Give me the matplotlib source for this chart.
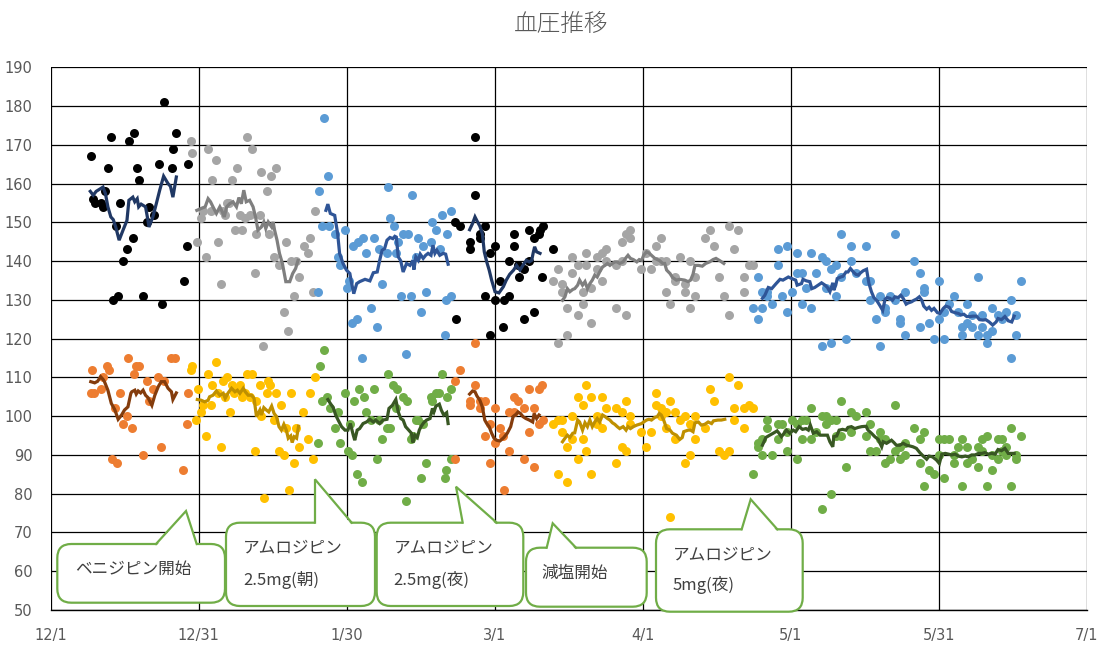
import matplotlib
matplotlib.use("Agg")
import matplotlib.pyplot as plt
from matplotlib.patches import FancyBboxPatch, Polygon
import numpy as np

plt.rcParams['font.family'] = ['Noto Sans CJK JP', 'DejaVu Sans']

TITLE = "血圧推移"
X_TICK_LABELS = ['12/1', '12/31', '1/30', '3/1', '4/1', '5/1', '5/31', '7/1']
X_SPAN_DAYS = 212          # 12/1 -> 7/1, x values are days since 12/1
Y_MIN, Y_MAX, Y_STEP = 50, 190, 10

# ---------------- period 1 (black / orange) ----------------
P1_SYS_DAY = [8.2,8.7,9.1,10.3,10.6,11.2,11.7,12.3,12.7,13.4,13.8,14.1,14.8,15.7,16.0,16.8,17.0,17.6,18.1,18.9,19.6,20.1,21.1,22.1,22.8,23.1,24.8,25.0,25.6,27.2,27.8,28.1]
P1_SYS = [167,156,155,155,154,158,164,172,130,149,131,155,140,143,171,146,173,164,161,131,150,154,152,165,129,181,164,169,173,135,144,165]
P1_DIA_DAY = [8.2,8.5,8.9,10.2,10.7,11.6,11.9,12.6,13.2,13.6,14.1,14.7,15.7,15.9,16.7,17.0,17.5,18.0,18.8,19.6,20.1,21.0,22.0,22.6,23.1,24.7,25.5,27.1,27.8,28.0]
P1_DIA = [106,112,106,107,110,113,112,89,102,88,106,98,100,115,97,111,113,113,90,109,104,107,110,92,109,115,115,86,98,106]
P1_SYS_MA_DAY = [8.1,8.7,9.3,10.7,11.2,11.7,12.3,12.8,13.3,14.0,14.8,15.6,16.0,16.8,17.2,17.7,18.0,18.5,19.4,19.9,20.1,20.9,21.6,22.3,23.1,24.0,24.5,25.0,25.7]
P1_SYS_MA = [158,157,158,159.1,157.4,154,151.4,150.7,148.8,145.4,148,150.5,155.7,156.5,155.3,156.1,154,154.7,154,150.5,148.8,151.4,154.8,158.3,161.9,160,159.3,156.5,161.7]
P1_DIA_MA_DAY = [8.2,9.0,9.6,10.2,10.7,11.0,11.7,12.4,13.1,13.8,14.5,15.1,15.8,16.4,16.6,17.2,17.5,17.9,18.4,18.9,19.4,19.9,20.7,21.3,22.0,22.6,23.3,24.0,24.7,25.0,25.7]
P1_DIA_MA = [108.9,108.6,109.0,110.2,109.5,108.9,106.7,103.3,101.7,99.2,100.3,101.6,102.4,105.9,106.3,106.7,105.7,106.5,106.0,106.7,105.4,104.8,102.8,105.4,107.6,108.9,108.9,107.2,106.3,104.3,106.0]

# ---------------- period 2 (gray / gold) ----------------
P2_SYS_DAY = [28.6,29.0,29.9,30.7,31.1,31.7,32.1,32.8,33.1,33.8,34.2,34.8,35.2,35.6,36.0,36.5,37.0,37.7,38.1,38.7,39.1,39.7,40.1,40.8,41.1,41.8,42.1,42.8,43.1,43.4,44.2,44.6,45.1,45.7,46.1,46.7,47.7,48.1,48.6,49.1,49.8,50.2,50.8,51.8,52.6,53.0,53.6,54.0]
P2_SYS = [171,168,145,151,153,141,169,153,161,166,145,134,153,152,155,155,161,148,164,152,148,151,172,152,169,137,147,152,163,118,158,147,162,141,164,139,127,145,122,140,131,140,136,144,142,146,132,153]
P2_DIA_DAY = [28.7,29.0,29.7,30.1,30.7,31.1,31.7,32.1,32.7,33.1,33.8,34.2,34.8,35.2,35.6,36.0,36.7,37.0,37.5,38.0,38.7,39.1,39.7,40.1,40.8,41.1,41.8,42.1,42.8,43.1,43.6,44.2,44.5,44.8,45.7,46.0,46.7,47.1,47.7,48.1,48.7,49.1,49.8,50.2,50.7,51.7,52.6,53.0,53.6,54.0]
P2_DIA = [112,113,99,107,101,103,95,111,103,108,114,106,92,109,105,110,101,108,106,107,108,105,106,111,105,111,91,104,108,100,79,106,109,108,99,106,91,103,90,97,81,106,88,97,92,101,94,106,89,110]
P2_SYS_MA_DAY = [29.9,30.8,31.6,32.2,32.7,33.2,33.9,34.6,35.1,35.5,36.0,36.6,37.3,38.0,38.5,39.0,39.5,40.0,40.7,41.4,41.9,42.4,43.1,43.6,44.0,44.5,45.2,45.5,45.8,46.3,46.8,47.4,48.1,48.9,49.5,50.1,50.6]
P2_SYS_MA = [153.1,153.6,154.0,156.1,155.3,154.0,152.3,154.0,152.7,151.4,154.0,154.8,155.3,154.0,156.4,154.8,158.3,155.3,155.7,154.0,151.4,148.0,148.8,150.1,148.4,150.1,148.8,150.1,148.0,145.4,142.0,139.4,134.7,134.7,136.8,138.1,140.2]
P2_DIA_MA_DAY = [30.0,30.8,31.5,32.2,32.5,33.2,33.9,34.6,35.3,35.7,36.3,37.0,37.7,38.2,38.7,39.4,39.8,40.4,41.1,41.6,42.1,42.8,43.1,43.6,44.1,44.6,45.2,45.7,46.2,46.7,47.2,47.7,48.2,48.6,49.1,49.4,49.8,50.3,50.7]
P2_DIA_MA = [104.3,104.1,103.7,104.1,105.0,105.4,106.5,105.4,105.9,104.6,106.0,107.2,106.3,106.7,105.9,107.2,106.3,105.4,105.4,104.6,99.9,101.6,100.3,102.2,101.6,101.1,102.6,100.7,99.9,97.3,96.4,97.9,96.4,94.3,94.9,93.2,94.7,94.3,97.4]

# ---------------- period 3 (blue / green) ----------------
P3_SYS_DAY = [54.7,54.9,55.6,56.0,56.7,57.0,58.1,58.7,59.2,60.2,60.7,61.1,61.6,61.9,62.6,62.9,63.6,63.9,64.6,65.6,66.1,66.7,67.1,67.7,68.7,69.1,69.5,70.2,70.6,71.0,71.6,72.1,72.6,73.1,73.7,74.0,74.7,75.1,75.7,76.1,76.7,77.8,78.1,78.9,79.6,80.0,80.6,80.8,81.0,81.8,81.9]
P3_SYS = [132,158,149,177,162,149,147,141,139,148,133,135,124,144,125,145,115,146,142,128,146,123,143,134,142,159,151,149,142,145,131,147,116,147,131,157,141,146,127,144,132,145,150,148,143,152,121,130,147,153,131]
P3_DIA_DAY = [54.7,55.1,55.6,56.0,56.6,57.1,58.1,58.7,59.2,60.2,60.9,61.2,61.6,62.0,62.6,63.0,63.6,64.1,64.6,65.6,66.1,66.7,67.2,67.7,68.8,69.1,69.4,70.1,70.6,70.9,72.0,72.7,72.9,73.7,74.2,74.7,75.2,75.7,76.2,76.7,77.8,78.1,78.8,79.5,80.0,80.6,80.8,81.0,81.8,81.9]
P3_DIA = [93,113,104,117,105,102,97,101,93,106,91,98,90,104,85,107,83,105,101,99,107,89,99,94,97,111,97,108,102,107,105,78,104,94,95,99,99,84,98,88,105,104,106,106,111,84,86,105,89,107]
P3_SYS_MA_DAY = [56.3,56.7,57.2,58.1,58.7,59.1,59.8,60.5,61.2,61.5,62.0,62.6,63.2,64.3,65.3,66.0,66.8,67.3,67.8,68.3,68.8,69.4,70.0,70.4,70.7,71.1,71.6,72.1,72.8,73.5,74.1,74.3,74.7,75.2,75.6,76.2,76.7,77.2,77.8,78.2,78.6,79.0,79.6,80.3,80.8,81.3]
P3_SYS_MA = [153.1,154.7,152.3,151.8,147.1,142.0,139.4,137.7,136.8,134.7,131.6,134.2,134.7,135.3,134.9,137.0,137.2,140.2,142.8,143.2,145.4,146.1,145.8,146.4,146.2,141.1,140.1,137.2,139.4,138.9,140.2,137.8,141.1,140.2,141.8,140.7,141.5,142.0,141.5,144.1,142.0,142.8,141.5,142.0,141.8,139.2]
P3_DIA_MA_DAY = [56.7,57.2,57.8,58.3,58.8,59.5,60.2,60.8,61.3,61.9,62.2,62.7,63.2,63.9,64.6,65.3,66.0,66.5,67.3,68.0,68.8,69.2,69.9,70.6,71.1,71.6,72.1,72.6,73.1,73.8,74.1,74.5,75.0,75.4,75.8,76.3,76.9,77.6,78.1,78.4,78.8,79.5,79.9,80.4,81.0,81.3]
P3_DIA_MA = [104.3,103.3,102.2,100.3,99.0,97.3,96.4,96.4,98.1,95.1,93.8,96.4,96.8,98.1,98.5,99.2,98.5,99.0,98.1,99.0,99.2,102.0,102.8,104.3,101.1,99.4,99.0,97.3,96.6,95.6,93.2,95.1,94.5,96.4,97.4,98.3,99.0,99.4,102.0,101.1,102.6,103.1,101.6,100.3,100.9,98.1]

# ---------------- period 4 (black / orange) ----------------
P4_SYS_DAY = [82.7,82.9,83.7,85.7,85.7,86.8,86.8,87.8,87.9,88.8,88.8,89.8,89.8,90.9,90.9,91.9,92.6,92.7,93.7,93.8,94.7,94.7,95.6,95.8,96.8,96.8,97.8,97.8,98.8,98.9,99.9,100.1,100.6,100.7,102.8]
P4_SYS = [150,125,149,145,143,172,157,147,146,149,131,142,121,144,130,135,123,130,140,131,147,144,139,136,138,125,148,140,127,146,147,148,136,149,143]
P4_DIA_DAY = [82.7,82.8,83.7,85.7,85.7,86.8,86.8,87.8,87.8,88.8,88.8,89.8,89.8,90.9,90.9,91.9,92.6,92.7,93.7,93.8,94.7,94.7,95.6,96.8,96.8,97.8,97.8,98.8,98.8,99.9,99.9,100.6,100.7]
P4_DIA = [89,109,112,104,103,119,108,104,102,104,95,98,88,102,93,97,95,81,91,101,101,105,104,102,89,96,107,102,87,107,98,108,99]
P4_SYS_MA_DAY = [85.7,86.3,86.8,87.2,87.8,88.3,88.7,89.2,89.7,90.2,90.9,91.7,92.6,93.2,93.9,94.7,95.3,96.0,96.6,97.3,97.9,98.4,98.7,99.0,99.4,100.1]
P4_SYS_MA = [148.1,149.7,151.4,150.4,149.0,147.1,142.4,139.8,137.7,135.1,132.1,131.8,133.4,135.1,136.6,137.7,138.9,137.7,138.9,140.2,139.8,140.2,142.1,143.7,142.4,142.0]
P4_DIA_MA_DAY = [85.7,86.3,86.8,87.2,87.8,88.3,88.8,89.2,89.7,90.2,90.7,91.2,91.9,92.7,93.4,94.1,94.6,95.2,95.6,96.1,96.6,97.2,97.9,98.6,98.9,99.4,99.9]
P4_DIA_MA = [105.7,106.5,106.3,105.2,104.1,102.4,99.0,98.1,97.3,95.6,94.3,93.8,93.6,94.5,95.6,97.3,99.9,100.5,101.1,100.7,99.9,99.4,99.0,98.5,100.7,99.4,100.3]

# ---------------- period 5 (gray / gold) ----------------
P5_SYS_DAY = [102.7,103.7,103.7,104.7,104.7,105.7,105.7,106.7,106.7,107.8,107.8,108.8,108.8,109.6,109.6,110.6,110.6,111.7,111.7,112.7,112.7,113.7,113.7,115.7,115.7,116.8,116.8,117.6,117.6,118.6,118.6,120.7,121.7,122.8,123.8,123.8,124.8,124.8,125.8,125.8,126.6,127.7,127.7,128.7,129.7,129.7,130.7,130.7,131.8,131.8,133.8,134.8,135.6,136.7,137.7,138.7,138.7,139.7,140.7,141.8,141.8,142.8,143.7]
P5_SYS = [135,138,119,134,132,128,121,141,137,139,126,132,129,142,139,133,124,141,138,142,135,143,140,139,128,145,140,126,147,148,146,138,142,138,144,140,146,140,140,132,129,136,135,141,134,132,140,128,136,131,146,148,144,136,131,149,126,143,148,136,132,139,139]
P5_DIA_DAY = [102.7,103.7,103.7,104.7,104.7,105.7,105.7,106.7,106.7,107.8,107.8,108.8,108.8,109.6,109.6,110.6,110.6,111.7,111.7,112.7,112.7,113.7,115.7,115.7,116.8,116.8,117.6,117.6,118.6,118.6,120.7,121.7,122.8,123.8,123.8,124.8,124.8,125.8,125.8,126.6,126.6,127.7,127.7,128.7,129.7,129.7,130.7,130.7,131.8,131.8,133.8,134.8,135.6,136.7,137.7,138.7,138.7,139.7,139.7,140.7,141.8,141.8,142.8,143.7]
P5_DIA = [98,99,85,99,96,92,83,100,94,105,89,103,94,108,91,105,85,100,98,105,97,102,102,88,101,92,91,104,100,98,96,92,96,106,103,102,100,101,97,104,74,101,94,99,100,88,98,90,100,94,97,107,104,91,90,91,110,102,99,108,102,97,103,102]
P5_SYS_MA_DAY = [104.7,105.2,105.7,106.2,106.8,107.2,107.8,108.2,108.8,109.3,109.8,110.3,110.8,111.3,111.8,112.3,112.9,113.4,113.9,114.4,114.9,115.4,115.9,116.4,117.1,117.7,118.1,118.6,119.2,119.9,120.4,120.9,121.3,121.9,122.4,122.9,123.6,124.1,124.6,125.2,125.6,126.0,126.7,127.2,128.0,128.7,129.7,130.4,130.9,131.4,131.8,132.5,133.3,134.0,134.8,135.5,136.1,136.9,137.7]
P5_SYS_MA = [129.9,130.8,132.9,132.1,132.7,132.9,133.8,135.1,133.8,134.7,132.9,134.2,135.1,136.4,135.9,137.2,138.5,138.9,139.4,138.9,139.4,139.8,139.8,139.4,139.8,140.9,141.5,140.7,140.4,139.8,140.4,140.2,141.5,142.4,142.1,141.5,140.7,140.4,140.1,139.4,139.4,137.7,136.8,135.8,135.1,135.3,135.1,134.7,135.1,136.6,138.9,138.9,138.7,139.4,139.8,140.4,140.7,140.1,139.4]
P5_DIA_MA_DAY = [104.7,105.2,105.7,106.2,106.8,107.2,107.8,108.2,108.8,109.3,109.8,110.3,110.8,111.3,111.8,112.3,112.9,113.4,113.9,114.4,114.9,115.4,115.9,116.4,117.1,117.7,118.1,118.6,119.2,119.9,120.4,120.9,121.3,121.9,122.4,122.9,123.6,124.1,124.5,124.9,125.4,126.0,126.7,127.2,128.0,128.7,129.2,129.5,130.4,130.9,131.4,131.8,132.5,133.1,133.8,134.5,135.2,135.6,136.5,137.2,137.9]
P5_DIA_MA = [93.4,94.3,95.1,94.5,95.6,95.7,99.0,98.5,96.4,98.3,97.3,99.0,97.3,98.5,99.4,98.5,100.3,99.9,99.4,99.0,98.3,97.9,97.3,96.8,97.3,96.4,97.3,96.8,97.3,97.7,97.9,98.1,98.5,99.0,99.2,99.0,99.7,99.9,100.7,100.3,99.0,96.8,96.4,95.6,95.1,94.0,94.5,96.0,96.4,96.4,96.0,98.3,98.5,97.7,97.9,98.5,98.1,98.8,99.0,99.0,99.2]

# ---------------- period 6 (blue / green) ----------------
P6_SYS_DAY = [143.6,144.6,144.6,145.6,145.6,146.6,146.6,147.6,148.7,148.7,149.7,150.7,150.7,151.7,152.6,152.6,153.6,153.6,154.6,155.6,155.6,156.6,157.7,157.7,158.7,158.7,159.7,159.7,160.6,160.6,161.6,161.6,162.6,163.7,163.7,164.7,166.7,166.7,167.7,167.7,168.8,169.6,169.6,170.6,170.6,171.6,172.7,172.7,173.7,173.7,174.7,174.7,176.7,177.8,177.8,178.6,178.6,179.6,180.6,181.7,181.7,182.7,182.7,183.7,184.7,185.7,186.5,186.5,187.5,187.5,188.5,188.5,189.6,189.6,190.6,190.6,191.6,191.6,192.6,192.6,193.7,194.7,195.5,196.5,196.5,197.5,197.5,198.6]
P6_SYS = [128,136,125,128,132,132,131,129,139,143,131,144,127,132,142,137,137,129,133,142,128,137,141,118,140,133,119,138,139,131,147,136,120,144,140,137,144,135,135,130,125,131,118,128,127,131,130,147,125,124,132,121,140,137,123,133,132,124,120,135,125,120,127,129,131,127,123,121,129,124,123,126,136,121,126,123,121,119,128,122,126,125,127,130,115,126,121,135]
P6_DIA_DAY = [143.6,144.6,144.6,145.6,145.6,146.6,146.6,147.6,148.7,148.7,149.7,150.7,150.7,151.7,152.6,152.6,153.6,153.6,154.6,155.6,155.6,156.6,157.7,157.7,158.7,158.7,159.7,159.7,160.6,160.6,161.6,161.6,162.6,163.7,163.7,164.7,166.7,166.7,167.7,167.7,168.8,169.6,169.6,170.6,170.6,171.6,172.7,172.7,173.7,173.7,174.7,174.7,176.7,177.8,177.8,178.6,178.6,179.6,180.6,181.7,181.7,182.7,182.7,183.7,184.7,184.7,185.7,186.5,186.5,187.5,187.5,188.5,189.6,189.6,190.6,190.6,191.6,191.6,192.6,192.6,193.7,193.7,194.7,194.7,195.5,195.5,196.5,196.5,197.5,197.5,198.6]
P6_DIA = [85,93,92,94,90,99,97,90,98,94,98,96,91,99,98,89,99,94,99,94,102,96,100,76,100,98,99,80,99,95,95,104,87,101,96,100,101,95,98,91,91,96,94,94,88,89,103,91,92,89,93,90,97,94,88,96,82,86,85,94,90,94,84,94,90,88,92,94,82,92,88,89,87,92,94,91,95,82,90,86,94,89,94,91,92,90,97,82,90,89,95]
P6_SYS_MA_DAY = [145.6,146.1,146.8,147.5,148.4,149.2,149.8,150.9,151.6,152.4,152.7,153.6,153.9,154.6,155.3,155.7,156.3,157.0,157.7,158.4,158.9,159.4,160.0,160.2,160.6,160.9,161.6,162.1,162.7,163.1,163.6,164.2,164.7,165.2,165.7,166.2,166.9,167.4,167.9,168.4,169.0,169.6,170.2,170.7,171.1,171.7,172.2,172.7,173.4,173.9,174.4,175.0,175.4,176.1,176.6,177.1,177.7,178.2,178.6,179.2,179.7,180.2,180.7,181.4,181.9,182.6,183.1,183.8,184.3,185.0,185.7,186.2,186.8,187.4,188.0,188.7,189.4,190.0,190.7,191.3,192.0,192.7,193.4,193.8,194.5,195.2,195.9,196.6,197.1]
P6_SYS_MA = [130.4,131.2,133.2,132.9,134.2,135.3,135.1,135.9,135.5,135.1,133.8,134.2,135.3,134.9,134.7,132.9,133.2,133.8,134.4,133.8,133.2,132.1,134.4,132.5,133.8,135.5,135.9,136.1,137.2,137.2,138.1,137.2,136.6,136.4,137.0,137.5,137.9,134.2,132.1,130.6,129.8,128.6,127.3,130.2,130.6,130.4,129.9,130.8,130.6,131.2,130.4,128.9,129.2,129.5,129.9,130.2,130.8,129.9,128.4,127.6,128.1,127.3,127.8,126.7,126.5,127.8,128.4,128.1,127.0,126.7,126.5,126.1,126.3,125.7,125.7,125.8,125.8,124.9,124.8,124.9,124.3,123.5,124.3,125.2,124.9,125.7,124.6,124.3,125.8]
P6_DIA_MA_DAY = [145.6,146.3,147.1,147.8,148.6,149.0,149.5,150.5,151.2,151.9,152.4,153.1,153.8,154.5,155.0,155.4,156.0,156.7,157.4,158.0,158.9,159.4,160.0,160.2,160.8,161.3,162.0,162.7,163.1,163.8,164.5,165.2,165.9,166.8,167.2,167.9,168.6,169.3,170.0,170.3,171.0,171.5,172.0,172.5,173.0,173.7,174.4,175.1,175.8,176.4,177.1,177.8,178.5,179.2,179.7,180.4,181.2,181.8,182.3,183.0,183.7,184.3,185.0,185.7,186.4,187.1,187.7,188.4,189.1,189.8,190.5,191.1,191.8,192.5,193.2,193.8,194.5,195.2,195.9,196.6,197.1]
P6_DIA_MA = [92.5,94.5,95.1,95.6,96.2,95.6,94.7,96.4,95.6,96.4,96.0,97.3,96.6,96.8,96.4,97.7,95.6,96.0,95.1,95.1,95.1,93.4,92.1,94.7,94.9,96.4,96.6,96.4,97.1,97.3,96.8,97.1,97.3,97.4,96.4,95.6,94.7,94.0,92.1,93.4,93.0,93.4,93.8,93.2,92.5,92.5,93.0,92.5,92.3,92.1,91.7,90.6,89.7,88.9,89.7,89.5,88.7,87.8,90.2,90.4,90.2,90.0,90.2,89.7,89.5,89.7,89.5,90.0,90.0,90.4,90.4,90.6,90.2,90.4,90.2,91.4,91.1,91.7,90.4,90.4,90.4]

CALLOUT_TEXTS = ["ベニジピン開始", "アムロジピン\n2.5mg(朝)", "アムロジピン\n2.5mg(夜)", "減塩開始", "アムロジピン\n5mg(夜)"]

# ---------------- styles ----------------
BLACK, ORANGE, GRAY, GOLD, BLUE, GREEN = '#000000', '#ED7D31', '#A5A5A5', '#FFC000', '#5B9BD5', '#70AD47'
NAVY, NAVY2, BROWN, DGRAY, DGOLD, DGREEN = '#203864', '#2F5597', '#843C0C', '#7F7F7F', '#BF9000', '#385723'

periods = [
    (P1_SYS_DAY, P1_SYS, P1_DIA_DAY, P1_DIA, P1_SYS_MA_DAY, P1_SYS_MA, P1_DIA_MA_DAY, P1_DIA_MA, BLACK, ORANGE, NAVY, BROWN),
    (P2_SYS_DAY, P2_SYS, P2_DIA_DAY, P2_DIA, P2_SYS_MA_DAY, P2_SYS_MA, P2_DIA_MA_DAY, P2_DIA_MA, GRAY, GOLD, DGRAY, DGOLD),
    (P3_SYS_DAY, P3_SYS, P3_DIA_DAY, P3_DIA, P3_SYS_MA_DAY, P3_SYS_MA, P3_DIA_MA_DAY, P3_DIA_MA, BLUE, GREEN, NAVY2, DGREEN),
    (P4_SYS_DAY, P4_SYS, P4_DIA_DAY, P4_DIA, P4_SYS_MA_DAY, P4_SYS_MA, P4_DIA_MA_DAY, P4_DIA_MA, BLACK, ORANGE, NAVY, BROWN),
    (P5_SYS_DAY, P5_SYS, P5_DIA_DAY, P5_DIA, P5_SYS_MA_DAY, P5_SYS_MA, P5_DIA_MA_DAY, P5_DIA_MA, GRAY, GOLD, DGRAY, DGOLD),
    (P6_SYS_DAY, P6_SYS, P6_DIA_DAY, P6_DIA, P6_SYS_MA_DAY, P6_SYS_MA, P6_DIA_MA_DAY, P6_DIA_MA, BLUE, GREEN, NAVY2, DGREEN),
]

W, H = 1108, 647
fig = plt.figure(figsize=(W / 100, H / 100), dpi=100)
ax = fig.add_axes([50.7 / W, 1 - 610 / H, (1087 - 50.7) / W, (610 - 67.3) / H])

for sd, s, dd, d, smd, sm, dmd, dm, sc, dc, slc, dlc in periods:
    ax.scatter(sd, s, s=42, color=sc, linewidths=0, zorder=3)
    ax.scatter(dd, d, s=42, color=dc, linewidths=0, zorder=3)
for sd, s, dd, d, smd, sm, dmd, dm, sc, dc, slc, dlc in periods:
    ax.plot(smd, sm, color=slc, lw=2.3, zorder=4, solid_joinstyle='miter')
    ax.plot(dmd, dm, color=dlc, lw=2.3, zorder=4, solid_joinstyle='miter')

ax.set_xlim(0, X_SPAN_DAYS)
ax.set_ylim(Y_MIN, Y_MAX)
ax.set_xticks(np.linspace(0, X_SPAN_DAYS, len(X_TICK_LABELS)))
ax.set_xticklabels(X_TICK_LABELS)
ax.set_yticks(np.arange(Y_MIN, Y_MAX + 1, Y_STEP))
ax.grid(True, color='black', lw=0.9, zorder=1)
ax.set_axisbelow(True)
for sp in ['top', 'right', 'left']:
    ax.spines[sp].set_visible(False)
ax.spines['bottom'].set_color('black')
ax.spines['bottom'].set_linewidth(1.0)
ax.tick_params(length=0, pad=13, labelsize=10.5, labelcolor='#595959')
for lab in ax.get_xticklabels() + ax.get_yticklabels():
    lab.set_family(['DejaVu Sans'])

fig.text(561 / W, 1 - 24.5 / H, TITLE, ha='center', va='center', fontsize=17,
         color='#595959', fontweight='light')

# ---------------- callouts (pixel layout overlay) ----------------
ov = fig.add_axes([0, 0, 1, 1])
ov.set_xlim(0, W)
ov.set_ylim(H, 0)
ov.axis('off')
ov.patch.set_alpha(0)

callout_geom = [
    # box (x0, y0, x1, y1), pointer base left, tip, base right, text line anchors
    ((57.3, 544, 225, 602.7), 156, (186, 511), 196.7, [(75, 569)]),
    ((226, 522.7, 375, 606), 315, (315, 479.3), 351.7, [(243, 548), (243, 580)]),
    ((376.7, 522.7, 523.3, 606), 462.7, (456, 486.7), 496.7, [(394, 548), (393, 580)]),
    ((526, 547.7, 646.7, 606.7), 546.7, (552.7, 523.3), 576, [(541, 573)]),
    ((656, 529.3, 802.7, 611.7), 741.7, (750.7, 499.3), 777.3, [(673, 555), (673, 585)]),
]

for geom, txt in zip(callout_geom, CALLOUT_TEXTS):
    (x0, y0, x1, y1), bl, tip, br, tpos = geom
    box = FancyBboxPatch((x0, y0), x1 - x0, y1 - y0,
                         boxstyle="round,pad=0,rounding_size=14",
                         fc='white', ec=GREEN, lw=1.6, zorder=5)
    ov.add_patch(box)
    ov.add_patch(Polygon([(bl, y0 + 2.2), tip, (br, y0 + 2.2)], closed=True,
                         fc='white', ec='none', zorder=6))
    ov.plot([bl, tip[0], br], [y0, tip[1], y0], color=GREEN, lw=1.6, zorder=7,
            solid_joinstyle='miter')
    for (tx, ty), line in zip(tpos, txt.split('\n')):
        ov.text(tx, ty, line, ha='left', va='center', fontsize=12, color='#404040', zorder=8)

fig.savefig('out.png', dpi=100)
